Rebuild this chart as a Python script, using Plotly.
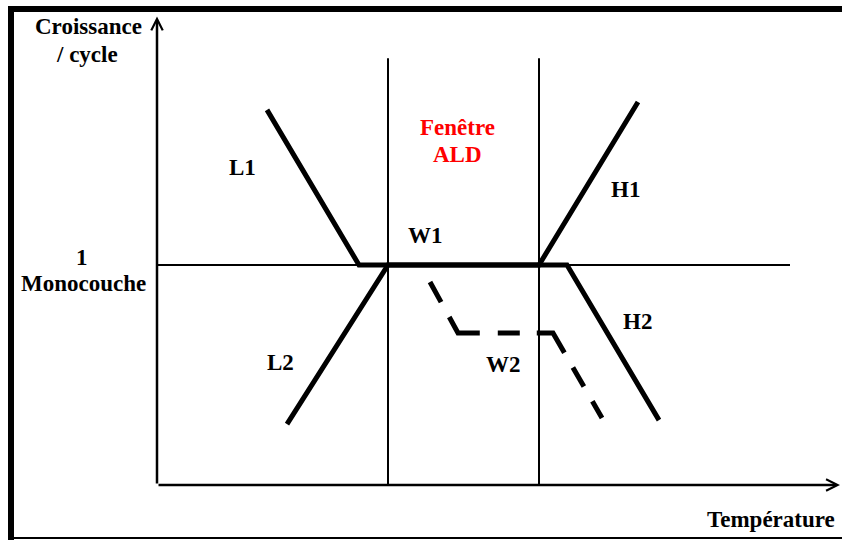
import plotly.graph_objects as go

# Schematic ALD window: growth per cycle vs temperature (arbitrary units, 1 = one monolayer)
monolayer = 1.0
window_t = [4.62, 7.64]          # limits of the ALD window
window_top = 1.94
mono_line_end = 12.66
x_axis_end = 13.66
y_axis_end = 2.13

# L1 -> W1 -> H2 branch
path_a_x = [2.2, 4.04, 8.2, 10.04]
path_a_y = [1.705, 1.0, 1.0, 0.295]
# L2 -> W1 -> H1 branch
path_b_x = [2.6, 4.62, 7.64, 9.62]
path_b_y = [0.277, 1.0, 1.0, 1.741]
# W2 (dashed)
w2_x = [5.46, 6.02, 7.92, 8.9]
w2_y = [0.923, 0.691, 0.691, 0.305]

labels = ["L1", "L2", "W1", "W2", "H1", "H2"]
label_x = [1.7, 2.46, 5.36, 6.92, 9.36, 9.6]
label_y = [1.445, 0.559, 1.136, 0.55, 1.341, 0.741]

serif = "Liberation Serif"
fig = go.Figure()

thin = dict(color="black", width=2)
# window boundaries
for t in window_t:
    fig.add_trace(go.Scatter(x=[t, t], y=[0, window_top], mode="lines", line=thin))
# monolayer reference line
fig.add_trace(go.Scatter(x=[0, mono_line_end], y=[monolayer, monolayer], mode="lines", line=thin))

thick = dict(color="black", width=5)
fig.add_trace(go.Scatter(x=path_a_x, y=path_a_y, mode="lines", line=thick))
fig.add_trace(go.Scatter(x=path_b_x, y=path_b_y, mode="lines", line=thick))
# dash pattern keeps the corners solid, as in the original drawing
w2_dash = "23px,17px,40px,18px,22px,17px,39px,17px,22px,17px,30px,40px"
fig.add_trace(go.Scatter(x=w2_x, y=w2_y, mode="lines",
                         line=dict(color="black", width=5, dash=w2_dash)))

# axes with arrows
for (x0, y0, x1, y1) in [(0, 0, 0, y_axis_end), (0, 0, x_axis_end, 0)]:
    fig.add_annotation(x=x1, y=y1, ax=x0, ay=y0, xref="x", yref="y", axref="x", ayref="y",
                       text="", showarrow=True, arrowhead=5, arrowwidth=2.5,
                       arrowsize=0.9, arrowcolor="black")

font = dict(family=serif, size=23, color="black")
for txt, lx, ly in zip(labels, label_x, label_y):
    fig.add_annotation(x=lx, y=ly, text=f"<b>{txt}</b>", showarrow=False, font=font)

fig.add_annotation(x=-1.38, y=2.082, text="<b>Croissance</b>", showarrow=False, font=font)
fig.add_annotation(x=-1.40, y=1.959, text="<b>/ cycle</b>", showarrow=False, font=font)
fig.add_annotation(x=-1.5, y=1.036, text="<b>1</b>", showarrow=False, font=font)
fig.add_annotation(x=-1.48, y=0.915, text="<b>Monocouche</b>", showarrow=False, font=font)
fig.add_annotation(x=12.28, y=-0.155, text="<b>Température</b>", showarrow=False, font=font)

red = dict(family=serif, size=23, color="#ff0000")
fig.add_annotation(x=6.0, y=1.627, text="<b>Fenêtre</b>", showarrow=False, font=red)
fig.add_annotation(x=6.0, y=1.5, text="<b>ALD</b>", showarrow=False, font=red)

# frame around the figure
W, H = 842, 540
frame = [
    dict(x0=8 / W, x1=1, y0=1 - 12 / H, y1=1 - 6 / H),      # top band
    dict(x0=8 / W, x1=14 / W, y0=0, y1=1 - 6 / H),          # left band
    dict(x0=8 / W, x1=1, y0=1 / H, y1=3 / H),               # bottom line
]
for f in frame:
    fig.add_shape(type="rect", xref="paper", yref="paper", fillcolor="black",
                  line_width=0, layer="above", **f)

fig.update_layout(
    width=W, height=H,
    margin=dict(l=0, r=0, t=0, b=0),
    plot_bgcolor="white", paper_bgcolor="white",
    showlegend=False,
    xaxis=dict(range=[-3.14, 13.7], visible=False, fixedrange=True),
    yaxis=dict(range=[-0.25, 2.2045], visible=False, fixedrange=True),
)

# drop the page's default body margin so the figure fills the window exactly
fig.write_html("out.html", config={"displayModeBar": False},
               post_script="document.body.style.margin='0';document.body.style.overflow='hidden';")
